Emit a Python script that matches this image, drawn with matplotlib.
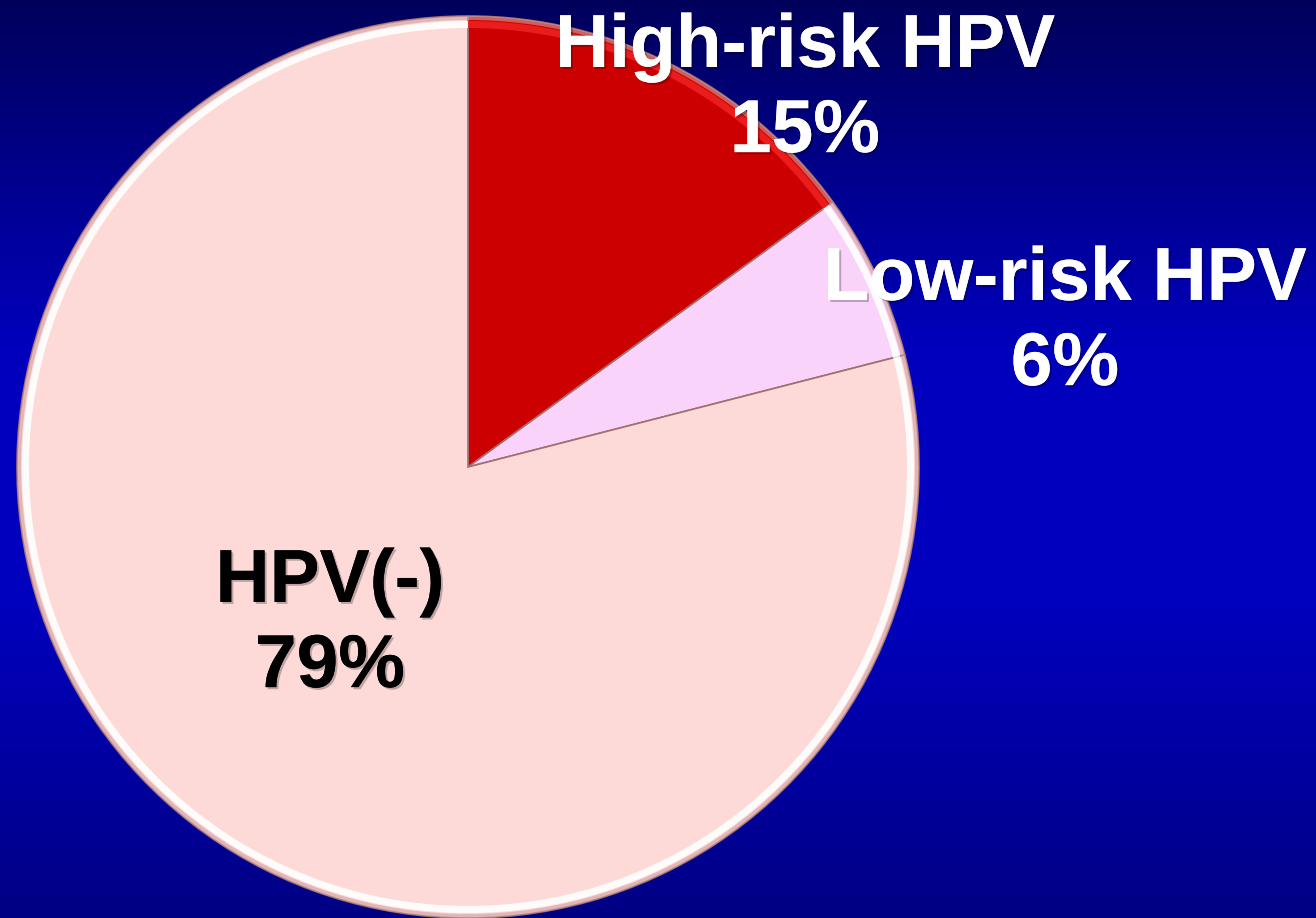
import numpy as np
import matplotlib
matplotlib.use("Agg")
import matplotlib.pyplot as plt
from matplotlib.patches import Wedge
from matplotlib.colors import LinearSegmentedColormap
import matplotlib.patheffects as pe

# data
labels = ["High-risk HPV", "Low-risk HPV", "HPV(-)"]
shares = [15, 6, 79]
colors = ["#cc0000", "#f9d3fa", "#fdd9d8"]
text_colors = ["white", "white", "black"]
rim_colors = ["#ee2020", "white", "white"]

W, H = 1316, 918
fig = plt.figure(figsize=(W / 100, H / 100), dpi=100)
ax = fig.add_axes([0, 0, 1, 1])

# blue background gradient (dark top, bright middle, dark bottom)
bg = LinearSegmentedColormap.from_list(
    "bg", [(0.0, (0, 0, 0.52)), (0.35, (0, 0, 0.75)), (0.62, (0, 0, 0.74)), (1.0, (0, 0, 0.36))])
grad = np.linspace(0, 1, 256).reshape(-1, 1)
ax.imshow(grad, cmap=bg, aspect="auto", extent=[0, W, H, 0], zorder=0)

cx, cy, r = 468, H - 467, 451
wedges, _ = ax.pie(shares, colors=colors, startangle=90, counterclock=False,
                   center=(cx, cy), radius=r, frame=True,
                   wedgeprops=dict(edgecolor="#a07070", linewidth=1.2))
for w in wedges:
    w.set_zorder(2)
ax.set_xlim(0, W)
ax.set_ylim(0, H)
ax.set_aspect("equal")
ax.axis("off")

# bevel highlight along the rim
for w, rc in zip(wedges, rim_colors):
    ax.add_patch(Wedge((cx, cy), r - 5, w.theta1, w.theta2, width=7,
                       facecolor=rc, edgecolor="none", alpha=0.9, zorder=3))
    ax.add_patch(Wedge((cx, cy), r, w.theta1, w.theta2, width=4,
                       facecolor="#d0a0a0", edgecolor="none", alpha=0.6, zorder=3))

# label text
shadow = [pe.withSimplePatchShadow(offset=(1.5, -1.5), shadow_rgbFace="black", alpha=0.25), pe.Normal()]
label_pos = [(805, H - 90), (1065, H - 323), (330, H - 625)]
for lab, val, (x, y), tc in zip(labels, shares, label_pos, text_colors):
    ax.text(x, y, f"{lab}\n{val}%", ha="center", va="center", fontsize=54,
            fontweight="bold", family="Liberation Sans", color=tc,
            linespacing=1.3, zorder=5, path_effects=shadow)

fig.savefig("out.png", dpi=100)
